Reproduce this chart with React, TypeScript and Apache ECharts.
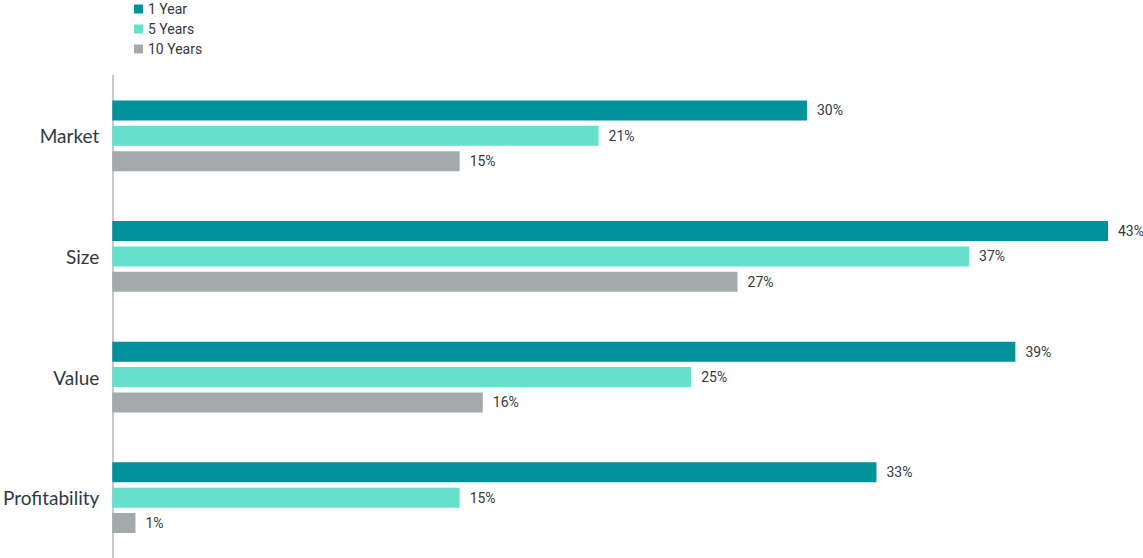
import React, { useEffect, useRef } from "react";
import * as echarts from "echarts";

const categories = ["Market", "Size", "Value", "Profitability"];
const seriesNames = ["1 Year", "5 Years", "10 Years"];
const oneYear = [30, 43, 39, 33];
const fiveYears = [21, 37, 25, 15];
const tenYears = [15, 27, 16, 1];
const colors = ["#00919A", "#64E0CB", "#A3AAAB"];

export default function App() {
  const ref = useRef<HTMLDivElement>(null);
  useEffect(() => {
    if (!ref.current) return;
    const chart = echarts.init(ref.current, null, { renderer: "svg" });
    const labelFont = "Roboto, 'DejaVu Sans Condensed', sans-serif";
    const data = [oneYear, fiveYears, tenYears];
    chart.setOption({
      animation: false,
      legend: {
        orient: "vertical",
        left: 129,
        top: -3,
        itemWidth: 9,
        itemHeight: 9,
        itemGap: 6,
        icon: "rect",
        data: seriesNames,
        textStyle: { fontFamily: labelFont, fontSize: 14, color: "#33383d", lineHeight: 14 },
      },
      grid: { left: 111, right: 35, top: 75.5, height: 488, containLabel: false },
      xAxis: {
        type: "value",
        min: 0,
        max: 43,
        show: false,
      },
      yAxis: {
        type: "category",
        data: categories,
        inverse: true,
        axisTick: { show: false },
        axisLine: { lineStyle: { color: "#b3b8bb", width: 1.5 } },
        axisLabel: {
          margin: 13,
          fontFamily: "Lato, 'Noto Sans', sans-serif",
          fontSize: 19,
          color: "#2d3a44",
        },
      },
      series: seriesNames.map((name, i) => ({
        name,
        type: "bar",
        data: data[i],
        barWidth: 20,
        barGap: "27%",
        itemStyle: { color: colors[i] },
        label: {
          show: true,
          position: "right",
          distance: 10,
          formatter: "{c}%",
          fontFamily: labelFont,
          fontSize: 14,
          color: "#33383d",
        },
      })),
    });
    return () => chart.dispose();
  }, []);
  return (
    <div
      ref={ref}
      style={{ position: "fixed", left: 0, top: 0, width: 1143, height: 558, background: "#fff" }}
    />
  );
}
